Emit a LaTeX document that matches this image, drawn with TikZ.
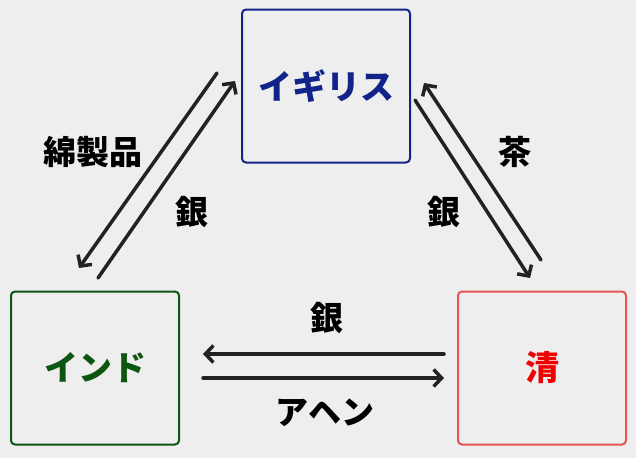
\documentclass[tikz,border=0pt]{standalone}
\usepackage{fontspec}
\setmainfont{Noto Sans CJK JP}[BoldFont={Noto Sans CJK JP Black}]
\usetikzlibrary{arrows.meta}
\definecolor{bggray}{HTML}{EEEEEE}
\definecolor{ukblue}{HTML}{12238A}
\definecolor{indiagreen}{HTML}{0E5512}
\definecolor{qingred}{HTML}{E85454}
\definecolor{qingtext}{HTML}{F00000}
\definecolor{arrowgray}{HTML}{222222}

\begin{document}
\begin{tikzpicture}[x=1pt,y=-1pt,line width=2pt,
        country/.style={draw,rounded corners=4pt,minimum width=168pt,minimum height=153pt,
                font=\bfseries\fontsize{34}{34}\selectfont},
        trade/.style={draw=arrowgray,line width=3.5pt,line cap=round,
                -{Straight Barb[length=8pt,width=17pt]}},
        goods/.style={font=\bfseries\fontsize{33}{33}\selectfont}]
                \fill[bggray] (0,0) rectangle (636,458);
                % countries
                \node[country,draw=ukblue,text=ukblue] (uk) at (326,86) {イギリス};
                \node[country,draw=indiagreen,text=indiagreen] (india) at (95,368) {インド};
                \node[country,draw=qingred,text=qingtext] (qing) at (542,368) {清};
                % arrow ends
                \coordinate (cottonA) at (217,73);
                \coordinate (cottonB) at (79,268);
                \coordinate (silverA) at (98,278);
                \coordinate (silverB) at (235,81);
                \coordinate (silverC) at (415,100);
                \coordinate (silverD) at (530,278);
                \coordinate (teaA) at (541,260);
                \coordinate (teaB) at (424,83);
                \coordinate (silverE) at (444,354);
                \coordinate (silverF) at (203,354);
                \coordinate (opiumA) at (203,378);
                \coordinate (opiumB) at (444,378);
                \draw[trade] (cottonA) -- (cottonB);
                \draw[trade] (silverA) -- (silverB);
                \draw[trade] (silverC) -- (silverD);
                \draw[trade] (teaA) -- (teaB);
                \draw[trade] (silverE) -- (silverF);
                \draw[trade] (opiumA) -- (opiumB);
                % goods
                \node[goods] (cotton) at (93,152) {綿製品};
                \node[goods] (silverleft) at (192,212) {銀};
                \node[goods] (tea) at (515,152) {茶};
                \node[goods] (silverright) at (444,212) {銀};
                \node[goods] (silverbottom) at (327,318) {銀};
                \node[goods] (opium) at (325,413) {アヘン};
        \end{tikzpicture}
\end{document}
